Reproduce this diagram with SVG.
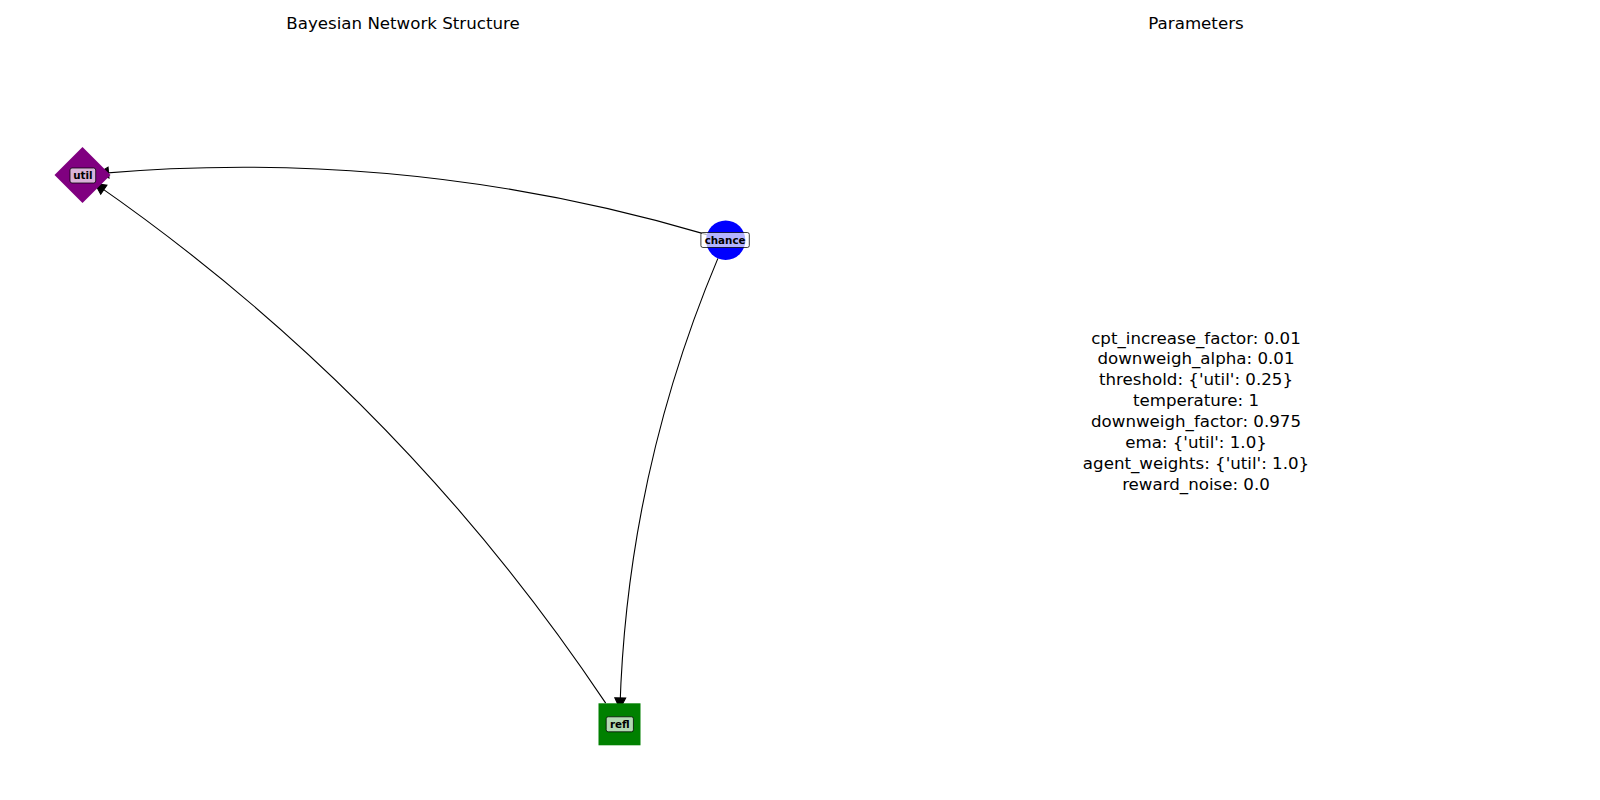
<svg xmlns="http://www.w3.org/2000/svg" width="1600" height="800" viewBox="0 0 1600 800">
<style>
.title{font-family:"DejaVu Sans",sans-serif;font-size:16.67px;fill:#000;text-anchor:middle}
.param{font-family:"DejaVu Sans",sans-serif;font-size:16.67px;fill:#000;text-anchor:middle}
.edge{fill:none;stroke:#000;stroke-width:1.1}
.lbox{fill:#fff;fill-opacity:0.7;stroke:#000;stroke-opacity:0.75;stroke-width:1}
.ltext{font-family:"DejaVu Sans",sans-serif;font-size:10.3px;font-weight:bold;fill:#000;text-anchor:middle}
</style>
<defs>
<marker id="arr" markerUnits="userSpaceOnUse" markerWidth="14" markerHeight="14" viewBox="-1 -7 14 14" refX="11" refY="0" orient="auto">
<path d="M0,-5.5 L11,0 L0,5.5 Z" fill="#000" stroke="#000" stroke-width="1"/>
</marker>
</defs>
<rect width="1600" height="800" fill="#fff"/>
<text class="title" x="403" y="29">Bayesian Network Structure</text>
<text class="title" x="1196" y="29">Parameters</text>
<g id="edges">
<path class="edge" d="M706.8,234.6 Q408.0,146.4 97.6,173.6" marker-end="url(#arr)"/>
<path class="edge" d="M717.9,258.4 Q627.0,474.4 619.9,708.9" marker-end="url(#arr)"/>
<path class="edge" d="M605.7,703.1 Q399.7,394.9 94.8,183.4" marker-end="url(#arr)"/>
</g>
<g id="node-util">
<polygon points="82.5,147 110.5,175 82.5,203 54.5,175" fill="#800080"/>
<rect class="lbox" x="70" y="168" width="25.7" height="15" rx="2"/>
<text class="ltext" x="82.8" y="179.3">util</text>
</g>
<g id="node-chance">
<circle cx="725.7" cy="240.3" r="19.7" fill="#0000ff"/>
<rect class="lbox" x="700.9" y="232.5" width="48.4" height="15" rx="2"/>
<text class="ltext" x="725.1" y="243.8">chance</text>
</g>
<g id="node-refl">
<rect x="598.5" y="703.3" width="42" height="42" fill="#008000"/>
<rect class="lbox" x="606.2" y="716.8" width="27.2" height="15" rx="2"/>
<text class="ltext" x="619.8" y="728.1">refl</text>
</g>
<g id="params">
<text class="param" x="1196" y="343.5">cpt_increase_factor: 0.01</text>
<text class="param" x="1196" y="364.4">downweigh_alpha: 0.01</text>
<text class="param" x="1196" y="385.3">threshold: {'util': 0.25}</text>
<text class="param" x="1196" y="406.2">temperature: 1</text>
<text class="param" x="1196" y="427.1">downweigh_factor: 0.975</text>
<text class="param" x="1196" y="448.0">ema: {'util': 1.0}</text>
<text class="param" x="1196" y="468.9">agent_weights: {'util': 1.0}</text>
<text class="param" x="1196" y="489.8">reward_noise: 0.0</text>
</g>
</svg>
